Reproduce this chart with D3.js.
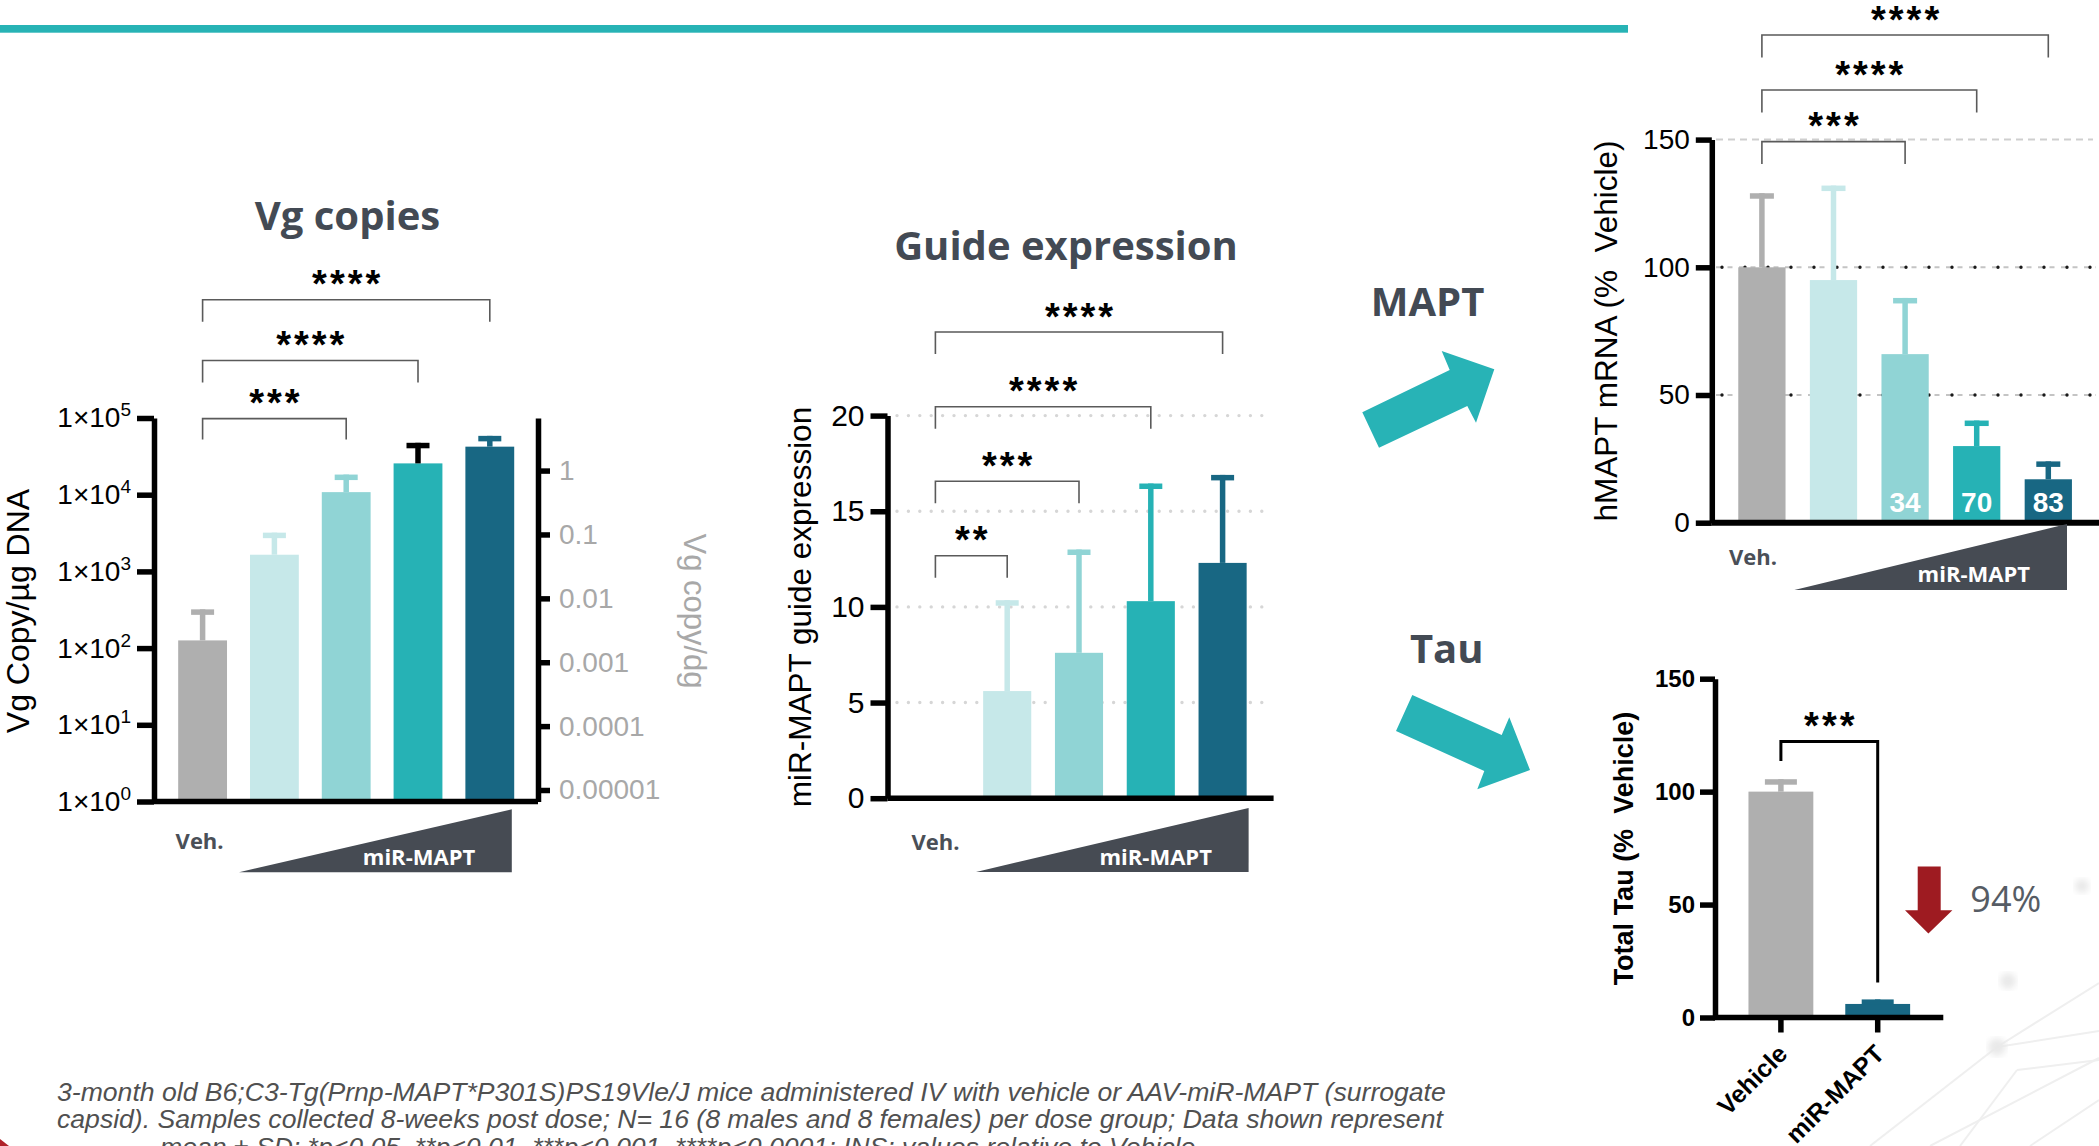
<!DOCTYPE html>
<html>
<head>
<meta charset="utf-8">
<script src="https://cdn.jsdelivr.net/npm/d3@7/dist/d3.min.js"></script>
<style>
  html, body { margin: 0; padding: 0; background: #ffffff; }
  svg { display: block; }
</style>
</head>
<body>
<svg id="slide" width="2099" height="1146"></svg>
<script>
// ---------------- data ----------------
const doseGroups = ["Veh.", "Dose 1", "Dose 2", "Dose 3", "Dose 4"];

// Vg copies per µg DNA (log scale), mean and upper SD
const vgMean = [126, 1650, 10800, 25600, 42300];
const vgSD = [194, 1550, 7500, 21900, 16200];
const vgLeftTicks = [1, 10, 100, 1000, 10000, 100000];
const vgRightTicks = [1, 0.1, 0.01, 0.001, 0.0001, 0.00001];
const vgRightTickLabels = ["1", "0.1", "0.01", "0.001", "0.0001", "0.00001"];
const vgSignif = [[0, 2, "***"], [0, 3, "****"], [0, 4, "****"]];

// miR-MAPT guide expression
const guideMean = [0, 5.6, 7.6, 10.3, 12.3];
const guideSD = [0, 4.75, 5.4, 6.15, 4.6];
const guideTicks = [0, 5, 10, 15, 20];
const guideSignif = [[0, 1, "**"], [0, 2, "***"], [0, 3, "****"], [0, 4, "****"]];

// hMAPT mRNA, % of vehicle
const mrnaMean = [100, 95, 66, 30, 17];
const mrnaSD = [29, 37, 22, 10, 7];
const mrnaLabelled = [false, false, true, true, true];
const mrnaTicks = [0, 50, 100, 150];
const mrnaSignif = [[0, 2, "***"], [0, 3, "****"], [0, 4, "****"]];

// Total Tau protein, % of vehicle
const tauGroups = ["Vehicle", "miR-MAPT"];
const tauMean = [100, 6];
const tauSD = [5.5, 2];
const tauTicks = [0, 50, 100, 150];
const tauSignif = [[0, 1, "***"]];

// ---------------- styling ----------------
const barColors = ["#afafaf", "#c6e8e9", "#90d4d5", "#26b2b5", "#186783"];
const vgErrColors = ["#afafaf", "#c6e8e9", "#90d4d5", "#000000", "#186783"];
const tauColors = ["#afafaf", "#186783"];
const SANS = "'Liberation Sans', Arial, sans-serif";
const HEAD = "'Open Sans', 'Noto Sans', sans-serif";
const INK = "#434a54";
const AXW = 5.5;

const svg = d3.select("#slide");

// ---------------- helpers ----------------
function styleAxis(g, fontSize, weight, color) {
  g.select(".domain").attr("stroke", "#000").attr("stroke-width", AXW);
  g.selectAll(".tick line").attr("stroke", "#000").attr("stroke-width", AXW);
  g.selectAll(".tick text")
    .attr("font-family", SANS)
    .attr("font-size", fontSize)
    .attr("font-weight", weight || "normal")
    .attr("fill", color || "#000");
}

function drawBars(g, x, y, keys, mean, colors, base) {
  g.selectAll("rect.bar")
    .data(keys.map((k, i) => ({ k, v: mean[i], c: colors[i] })).filter(d => d.v > (base || 0)))
    .join("rect")
    .attr("class", "bar")
    .attr("x", d => x(d.k))
    .attr("width", x.bandwidth())
    .attr("y", d => y(d.v))
    .attr("height", d => y(base || 0) - y(d.v))
    .attr("fill", d => d.c);
}

function drawErrors(g, x, y, keys, mean, sd, colors, capW) {
  const rows = keys.map((k, i) => ({ k, m: mean[i], s: sd[i], c: colors[i] })).filter(d => d.s > 0);
  g.selectAll("line.err").data(rows).join("line")
    .attr("class", "err")
    .attr("x1", d => x(d.k) + x.bandwidth() / 2)
    .attr("x2", d => x(d.k) + x.bandwidth() / 2)
    .attr("y1", d => y(d.m))
    .attr("y2", d => y(d.m + d.s))
    .attr("stroke", d => d.c)
    .attr("stroke-width", AXW);
  g.selectAll("rect.cap").data(rows).join("rect")
    .attr("class", "cap")
    .attr("x", d => x(d.k) + x.bandwidth() / 2 - capW / 2)
    .attr("y", d => y(d.m + d.s))
    .attr("width", capW)
    .attr("height", AXW)
    .attr("fill", d => d.c);
}

// significance brackets: tops[] are the bracket heights, legs the leg lengths
function drawBrackets(g, x, keys, list, tops, legs, stroke, sw) {
  list.forEach((b, n) => {
    const xa = x(keys[b[0]]) + x.bandwidth() / 2;
    const xb = x(keys[b[1]]) + x.bandwidth() / 2;
    const t = tops[n];
    const la = Array.isArray(legs[n]) ? legs[n][0] : legs[n];
    const lb = Array.isArray(legs[n]) ? legs[n][1] : legs[n];
    g.append("path")
      .attr("d", `M${xa},${t + la}V${t}H${xb}V${t + lb}`)
      .attr("fill", "none")
      .attr("stroke", stroke)
      .attr("stroke-width", sw);
    g.append("text")
      .attr("x", (xa + xb) / 2 + 1.5)
      .attr("y", t - 24 + 21.5)
      .attr("text-anchor", "middle")
      .attr("font-family", SANS)
      .attr("font-weight", "bold")
      .attr("font-size", 38)
      .attr("letter-spacing", 3)
      .attr("fill", "#000")
      .text(b[2]);
  });
}

function drawWedge(g, vehX, vehY, tri, textX, textY) {
  g.append("text")
    .attr("x", vehX).attr("y", vehY)
    .attr("text-anchor", "middle")
    .attr("font-family", HEAD).attr("font-weight", 700).attr("font-size", 22)
    .attr("fill", "#4a4f57")
    .text("Veh.");
  g.append("polygon")
    .attr("points", tri.map(p => p.join(",")).join(" "))
    .attr("fill", "#464b53");
  g.append("text")
    .attr("x", textX).attr("y", textY)
    .attr("text-anchor", "middle")
    .attr("font-family", HEAD).attr("font-weight", 700).attr("font-size", 22)
    .attr("fill", "#ffffff")
    .text("miR-MAPT");
}

function title(txt, x, y, size) {
  svg.append("text")
    .attr("x", x).attr("y", y)
    .attr("text-anchor", "middle")
    .attr("font-family", HEAD).attr("font-weight", 700).attr("font-size", size || 40)
    .attr("fill", INK)
    .text(txt);
}

function yLabel(txt, x, y, size, weight, color, angle) {
  svg.append("text")
    .attr("transform", `translate(${x},${y}) rotate(${angle || -90})`)
    .attr("text-anchor", "middle")
    .attr("font-family", SANS).attr("font-size", size)
    .attr("font-weight", weight || "normal")
    .attr("fill", color || "#000")
    .style("white-space", "pre")
    .text(txt);
}

// ---------------- background decoration ----------------
svg.append("rect").attr("x", 0).attr("y", 25).attr("width", 1628).attr("height", 7.7).attr("fill", "#27b3b5");

const deco = svg.append("g").attr("stroke", "#efefef").attr("stroke-width", 2).attr("fill", "none");
[[1870, 1146, 1997, 1047], [1997, 1047, 2099, 983], [1997, 1047, 2099, 1031], [1930, 1146, 2099, 1058],
 [2017, 1070, 2099, 1060], [1960, 1146, 2017, 1070], [2030, 1146, 2099, 1100]].forEach(l => {
  deco.append("line").attr("x1", l[0]).attr("y1", l[1]).attr("x2", l[2]).attr("y2", l[3]);
});
const blur = svg.append("defs").append("filter").attr("id", "soft");
blur.append("feGaussianBlur").attr("stdDeviation", 3);
[[1997, 1047, 9], [2008, 981, 8], [2082, 886, 7]].forEach(d => {
  svg.append("circle").attr("cx", d[0]).attr("cy", d[1]).attr("r", d[2])
    .attr("fill", "#e9e9e9").attr("filter", "url(#soft)");
});

// ---------------- panel 1: Vg copies ----------------
{
  const g = svg.append("g");
  const x = d3.scaleBand().domain(doseGroups).range([166.7, 525.7]).paddingInner(0.32).paddingOuter(0.16);
  const y = d3.scaleLog().domain([1, 1e5]).range([801.5, 418]);
  const yr = d3.scaleLog().domain([Math.pow(10, -5.18), Math.pow(10, 0.823)]).range([801.5, 418]);

  title("Vg copies", 347.5, 230);

  drawBars(g, x, y, doseGroups, vgMean, barColors, 1);
  drawErrors(g, x, y, doseGroups, vgMean, vgSD, vgErrColors, 23);

  g.append("line").attr("x1", 154).attr("x2", 538).attr("y1", y(1)).attr("y2", y(1))
    .attr("stroke", "#000").attr("stroke-width", AXW);

  const ax = g.append("g").attr("transform", "translate(154,0)")
    .call(d3.axisLeft(y).tickValues(vgLeftTicks).tickSize(17).tickSizeOuter(0).tickPadding(6).tickFormat(() => ""));
  styleAxis(ax, 28);
  ax.selectAll(".tick text").each(function (d) {
    const t = d3.select(this);
    t.append("tspan").text("1×10");
    t.append("tspan").attr("dy", -11).attr("font-size", 19).text(Math.round(Math.log10(d)));
  });

  const axr = g.append("g").attr("transform", "translate(538,0)")
    .call(d3.axisRight(yr).tickValues(vgRightTicks).tickSize(12).tickSizeOuter(0).tickPadding(9)
      .tickFormat((d, i) => vgRightTickLabels[i]));
  styleAxis(axr, 28, "normal", "#a8a8a8");

  yLabel("Vg Copy/µg DNA", 29, 611, 32);
  yLabel("Vg copy/dg", 684, 611, 31, "normal", "#a8a8a8", 90);

  drawBrackets(g, x, doseGroups, vgSignif, [418.6, 360.5, 299.7], [21, 22, 22], "#5a5a5a", 1.6);
  drawWedge(g, x(doseGroups[0]) + x.bandwidth() / 2 - 3, 848.5,
    [[239, 872.3], [511.8, 809.3], [511.8, 872.3]], 419, 865);
}

// ---------------- panel 2: guide expression ----------------
{
  const g = svg.append("g");
  const x = d3.scaleBand().domain(doseGroups).range([899.5, 1258.5]).paddingInner(0.33).paddingOuter(0.165);
  const y = d3.scaleLinear().domain([0, 20]).range([798.2, 415.6]);

  title("Guide expression", 1066, 260);

  g.selectAll("line.grid").data(guideTicks.filter(t => t > 0)).join("line")
    .attr("x1", 897).attr("x2", 1267)
    .attr("y1", d => y(d)).attr("y2", d => y(d))
    .attr("stroke", "#d6d6d6").attr("stroke-width", 3.4)
    .attr("stroke-linecap", "round").attr("stroke-dasharray", "0,11.4");

  drawBars(g, x, y, doseGroups, guideMean, barColors, 0);
  drawErrors(g, x, y, doseGroups, guideMean, guideSD, barColors, 23);

  g.append("line").attr("x1", 887.5).attr("x2", 1273.6).attr("y1", y(0)).attr("y2", y(0))
    .attr("stroke", "#000").attr("stroke-width", AXW);
  const ax = g.append("g").attr("transform", "translate(887.5,0)")
    .call(d3.axisLeft(y).tickValues(guideTicks).tickSize(17).tickSizeOuter(0).tickPadding(6));
  styleAxis(ax, 30);

  yLabel("miR-MAPT guide expression", 811, 607, 31.5);

  drawBrackets(g, x, doseGroups, guideSignif, [555.8, 481.3, 406.7, 332], [22, 22, 22, 22], "#5a5a5a", 1.6);
  drawWedge(g, x(doseGroups[0]) + x.bandwidth() / 2, 849.6,
    [[976, 871.9], [1248.6, 808], [1248.6, 871.9]], 1155.7, 865);
}

// ---------------- arrows and labels between panels ----------------
title("MAPT", 1427.5, 316.3);
title("Tau", 1446.7, 662.7);
svg.append("polygon")
  .attr("points", "1362.3,412.3 1449.7,370 1441.7,351 1494.3,369.3 1476,422.7 1467.3,406 1379,447.7")
  .attr("fill", "#28b3b6");
svg.append("polygon")
  .attr("points", "1412.3,695 1501.7,735 1509.3,717.3 1530,770 1477.3,789.3 1484.3,771 1396,731")
  .attr("fill", "#28b3b6");

// ---------------- panel 3: hMAPT mRNA ----------------
{
  const g = svg.append("g");
  const x = d3.scaleBand().domain(doseGroups).range([1726.1, 2084.1]).paddingInner(0.34).paddingOuter(0.17);
  const y = d3.scaleLinear().domain([0, 150]).range([522.7, 139.6]);

  g.append("line").attr("x1", 1716).attr("x2", 2093).attr("y1", y(150)).attr("y2", y(150))
    .attr("stroke", "#cfcfcf").attr("stroke-width", 2).attr("stroke-dasharray", "7,5");
  [50, 100].forEach(v => {
    g.append("line").attr("x1", 1716).attr("x2", 2096).attr("y1", y(v)).attr("y2", y(v))
      .attr("stroke", "#c4c4c4").attr("stroke-width", 2).attr("stroke-dasharray", "5,6.5");
    g.append("line").attr("x1", 1722).attr("x2", 2096).attr("y1", y(v)).attr("y2", y(v))
      .attr("stroke", "#1a1a1a").attr("stroke-width", 3.4)
      .attr("stroke-linecap", "round").attr("stroke-dasharray", "0,23");
  });

  drawBars(g, x, y, doseGroups, mrnaMean, barColors, 0);
  drawErrors(g, x, y, doseGroups, mrnaMean, mrnaSD, barColors, 24);

  // knockdown percentage printed inside the bars
  g.selectAll("text.kd")
    .data(doseGroups.map((k, i) => ({ k, v: mrnaMean[i], show: mrnaLabelled[i] })).filter(d => d.show))
    .join("text")
    .attr("x", d => x(d.k) + x.bandwidth() / 2)
    .attr("y", y(0) - 10.7)
    .attr("text-anchor", "middle")
    .attr("font-family", SANS).attr("font-weight", "bold").attr("font-size", 28)
    .attr("fill", "#ffffff")
    .text(d => Math.round(100 - d.v));

  g.append("line").attr("x1", 1711.8).attr("x2", 2099).attr("y1", y(0)).attr("y2", y(0))
    .attr("stroke", "#000").attr("stroke-width", AXW + 0.5);
  const ax = g.append("g").attr("transform", "translate(1711.8,0)")
    .call(d3.axisLeft(y).tickValues(mrnaTicks).tickSize(16).tickSizeOuter(0).tickPadding(6));
  styleAxis(ax, 28);

  yLabel("hMAPT mRNA (%  Vehicle)", 1617, 331, 31.5);

  drawBrackets(g, x, doseGroups, mrnaSignif, [141.6, 90, 35], [22.5, 22.5, 22.5], "#5a5a5a", 1.6);
  drawWedge(g, x(doseGroups[0]) + x.bandwidth() / 2 - 9, 565.4,
    [[1794.4, 590], [2067, 524], [2067, 590]], 1973.8, 582);
}

// ---------------- panel 4: total Tau ----------------
{
  const g = svg.append("g");
  const x = d3.scaleBand().domain(tauGroups).range([1732.5, 1926.1]).paddingInner(0.33).paddingOuter(0.165);
  const y = d3.scaleLinear().domain([0, 150]).range([1017.5, 678.7]);

  drawBars(g, x, y, tauGroups, tauMean, tauColors, 0);
  drawErrors(g, x, y, tauGroups, tauMean, tauSD, tauColors, 32);

  const axx = g.append("g").attr("transform", `translate(0,${y(0)})`)
    .call(d3.axisBottom(x).tickSize(15).tickSizeOuter(0).tickFormat(() => ""));
  axx.select(".domain").remove();
  axx.selectAll(".tick line").attr("stroke", "#000").attr("stroke-width", AXW);
  g.append("line").attr("x1", 1713).attr("x2", 1943.3).attr("y1", y(0)).attr("y2", y(0))
    .attr("stroke", "#000").attr("stroke-width", AXW);

  const ax = g.append("g").attr("transform", "translate(1715,0)")
    .call(d3.axisLeft(y).tickValues(tauTicks).tickSize(15).tickSizeOuter(0).tickPadding(5));
  styleAxis(ax, 24, "bold");

  g.selectAll("text.xl").data(tauGroups).join("text")
    .attr("transform", d => `translate(${x(d) + x.bandwidth() / 2 + 8},${y(0) + 38}) rotate(-45)`)
    .attr("text-anchor", "end")
    .attr("font-family", SANS).attr("font-weight", "bold").attr("font-size", 25)
    .attr("fill", "#000")
    .text(d => d);

  yLabel("Total Tau (%  Vehicle)", 1633, 848.6, 27, "bold");

  drawBrackets(g, x, tauGroups, tauSignif, [741.4], [[19.5, 241]], "#000", 3);

  // reduction arrow and percentage
  g.append("polygon")
    .attr("points", "1917.7,866.6 1940.7,866.6 1940.7,910.2 1952.4,910.2 1928.4,933.6 1905,910.2 1917.7,910.2")
    .attr("fill", "#9e1b21");
  g.append("text")
    .attr("x", 2005.8).attr("y", 911.8)
    .attr("text-anchor", "middle")
    .attr("font-family", HEAD).attr("font-size", 36)
    .attr("fill", "#565c64")
    .text(Math.round(100 - tauMean[1]) + "%");
}

// ---------------- footnote ----------------
const foot = [
  "3-month old B6;C3-Tg(Prnp-MAPT*P301S)PS19Vle/J mice administered IV with vehicle or AAV-miR-MAPT (surrogate",
  "capsid). Samples collected 8-weeks post dose; N= 16 (8 males and 8 females) per dose group; Data shown represent",
  "mean ± SD; *p<0.05, **p<0.01, ***p<0.001, ****p<0.0001; INS: values relative to Vehicle"
];
svg.selectAll("text.foot").data(foot).join("text")
  .attr("class", "foot")
  .attr("x", (d, i) => i === 2 ? 160 : 57)
  .attr("y", (d, i) => 1100.7 + i * 27.6)
  .attr("font-family", SANS).attr("font-style", "italic").attr("font-size", 26.6)
  .attr("fill", "#505050")
  .text(d => d);
svg.append("polygon").attr("points", "0,1139 9,1146 0,1146").attr("fill", "#b0222a");
</script>
</body>
</html>
